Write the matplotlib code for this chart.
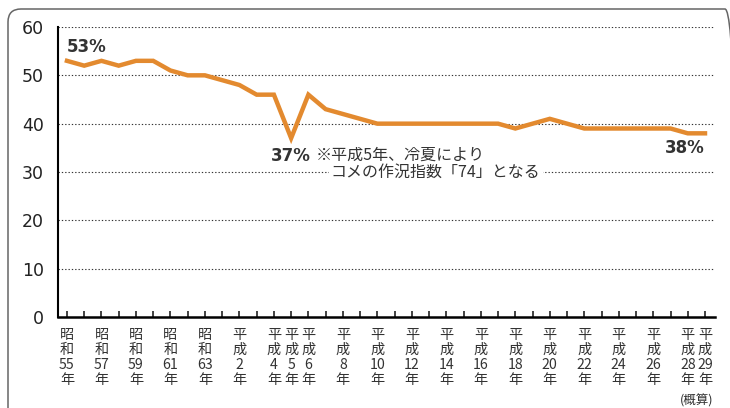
import numpy as np
import matplotlib
matplotlib.use("Agg")
import matplotlib.pyplot as plt
from matplotlib.patches import FancyBboxPatch

plt.rcParams['font.family'] = ['Noto Sans CJK JP', 'DejaVu Sans']

# rice self-sufficiency style series, S55 (1980) .. H29 (2017)
years = list(range(1980, 2018))
values = [53, 52, 53, 52, 53, 53, 51, 50, 50,
          49, 48, 46, 46, 37, 46, 43, 42, 41,
          40, 40, 40, 40, 40, 40, 40, 40,
          39, 40, 41, 40,
          39, 39, 39, 39, 39, 39,
          38, 38]
labelled = {1980: "昭\n和\n55\n年", 1982: "昭\n和\n57\n年", 1984: "昭\n和\n59\n年",
            1986: "昭\n和\n61\n年", 1988: "昭\n和\n63\n年", 1990: "平\n成\n2\n年",
            1992: "平\n成\n4\n年", 1993: "平\n成\n5\n年", 1994: "平\n成\n6\n年",
            1996: "平\n成\n8\n年", 1998: "平\n成\n10\n年", 2000: "平\n成\n12\n年",
            2002: "平\n成\n14\n年", 2004: "平\n成\n16\n年", 2006: "平\n成\n18\n年",
            2008: "平\n成\n20\n年", 2010: "平\n成\n22\n年", 2012: "平\n成\n24\n年",
            2014: "平\n成\n26\n年", 2016: "平\n成\n28\n年", 2017: "平\n成\n29\n年"}
yticks = [0, 10, 20, 30, 40, 50, 60]

W, H = 730, 408
fig = plt.figure(figsize=(W / 100, H / 100), dpi=100)

# rounded frame around the chart (runs off bottom/right edge)
frame = FancyBboxPatch((8, -60), 730, H - 9 + 60, boxstyle="round,pad=0,rounding_size=13",
                       transform=None, facecolor="none", edgecolor="#666666", lw=1.1)
fig.patches.append(frame)

ax = fig.add_axes([58 / W, 1 - 317 / H, (715 - 58) / W, (317 - 27) / H])
x = np.arange(len(years))
ax.plot(x, values, color="#E38A2F", lw=3.2, solid_joinstyle="miter", zorder=3)

ax.set_xlim(-0.52, len(years) - 1 + 0.58)
ax.set_ylim(0, 60)
ax.set_yticks(yticks)
ax.set_yticklabels([str(v) for v in yticks], fontsize=12.5, family="DejaVu Sans", color="#222222")
ax.tick_params(axis="y", length=0, pad=10)
for v in yticks[1:]:
    ax.axhline(v, color="#333333", lw=0.8, ls=(0, (1.2, 1.8)), zorder=1)

ax.set_xticks(x)
ax.set_xticklabels([labelled.get(y, "") for y in years], fontsize=10.2, linespacing=1.1,
                   color="#333333")
ax.tick_params(axis="x", direction="in", length=4, width=1.2, pad=8, color="#222222")
fig.text(697 / W, 1 - 401 / H, "(概算)", fontsize=9, ha="center", va="center", color="#333333")

for side in ("top", "right"):
    ax.spines[side].set_visible(False)
ax.spines["left"].set_linewidth(1.5)
ax.spines["bottom"].set_linewidth(1.8)
ax.set_facecolor("none")

bold = dict(fontsize=12, fontweight="bold", family="DejaVu Sans", color="#333333")
ax.text(0, 55.9, "53%", ha="left", va="center", **bold)
ax.text(13, 33.4, "37%", ha="center", va="center", **bold)
ax.text(37, 35.0, "38%", ha="right", va="center", **bold)
ax.text(14.4, 33.4, "※平成5年、冷夏により", ha="left", va="center", fontsize=11.5, color="#333333",
        zorder=4)
ax.text(15.3, 29.9, "コメの作況指数「74」となる", ha="left", va="center", fontsize=11.5, color="#333333",
        zorder=4, bbox=dict(facecolor="white", edgecolor="none", pad=1.5))

fig.savefig("out.png", dpi=100)
